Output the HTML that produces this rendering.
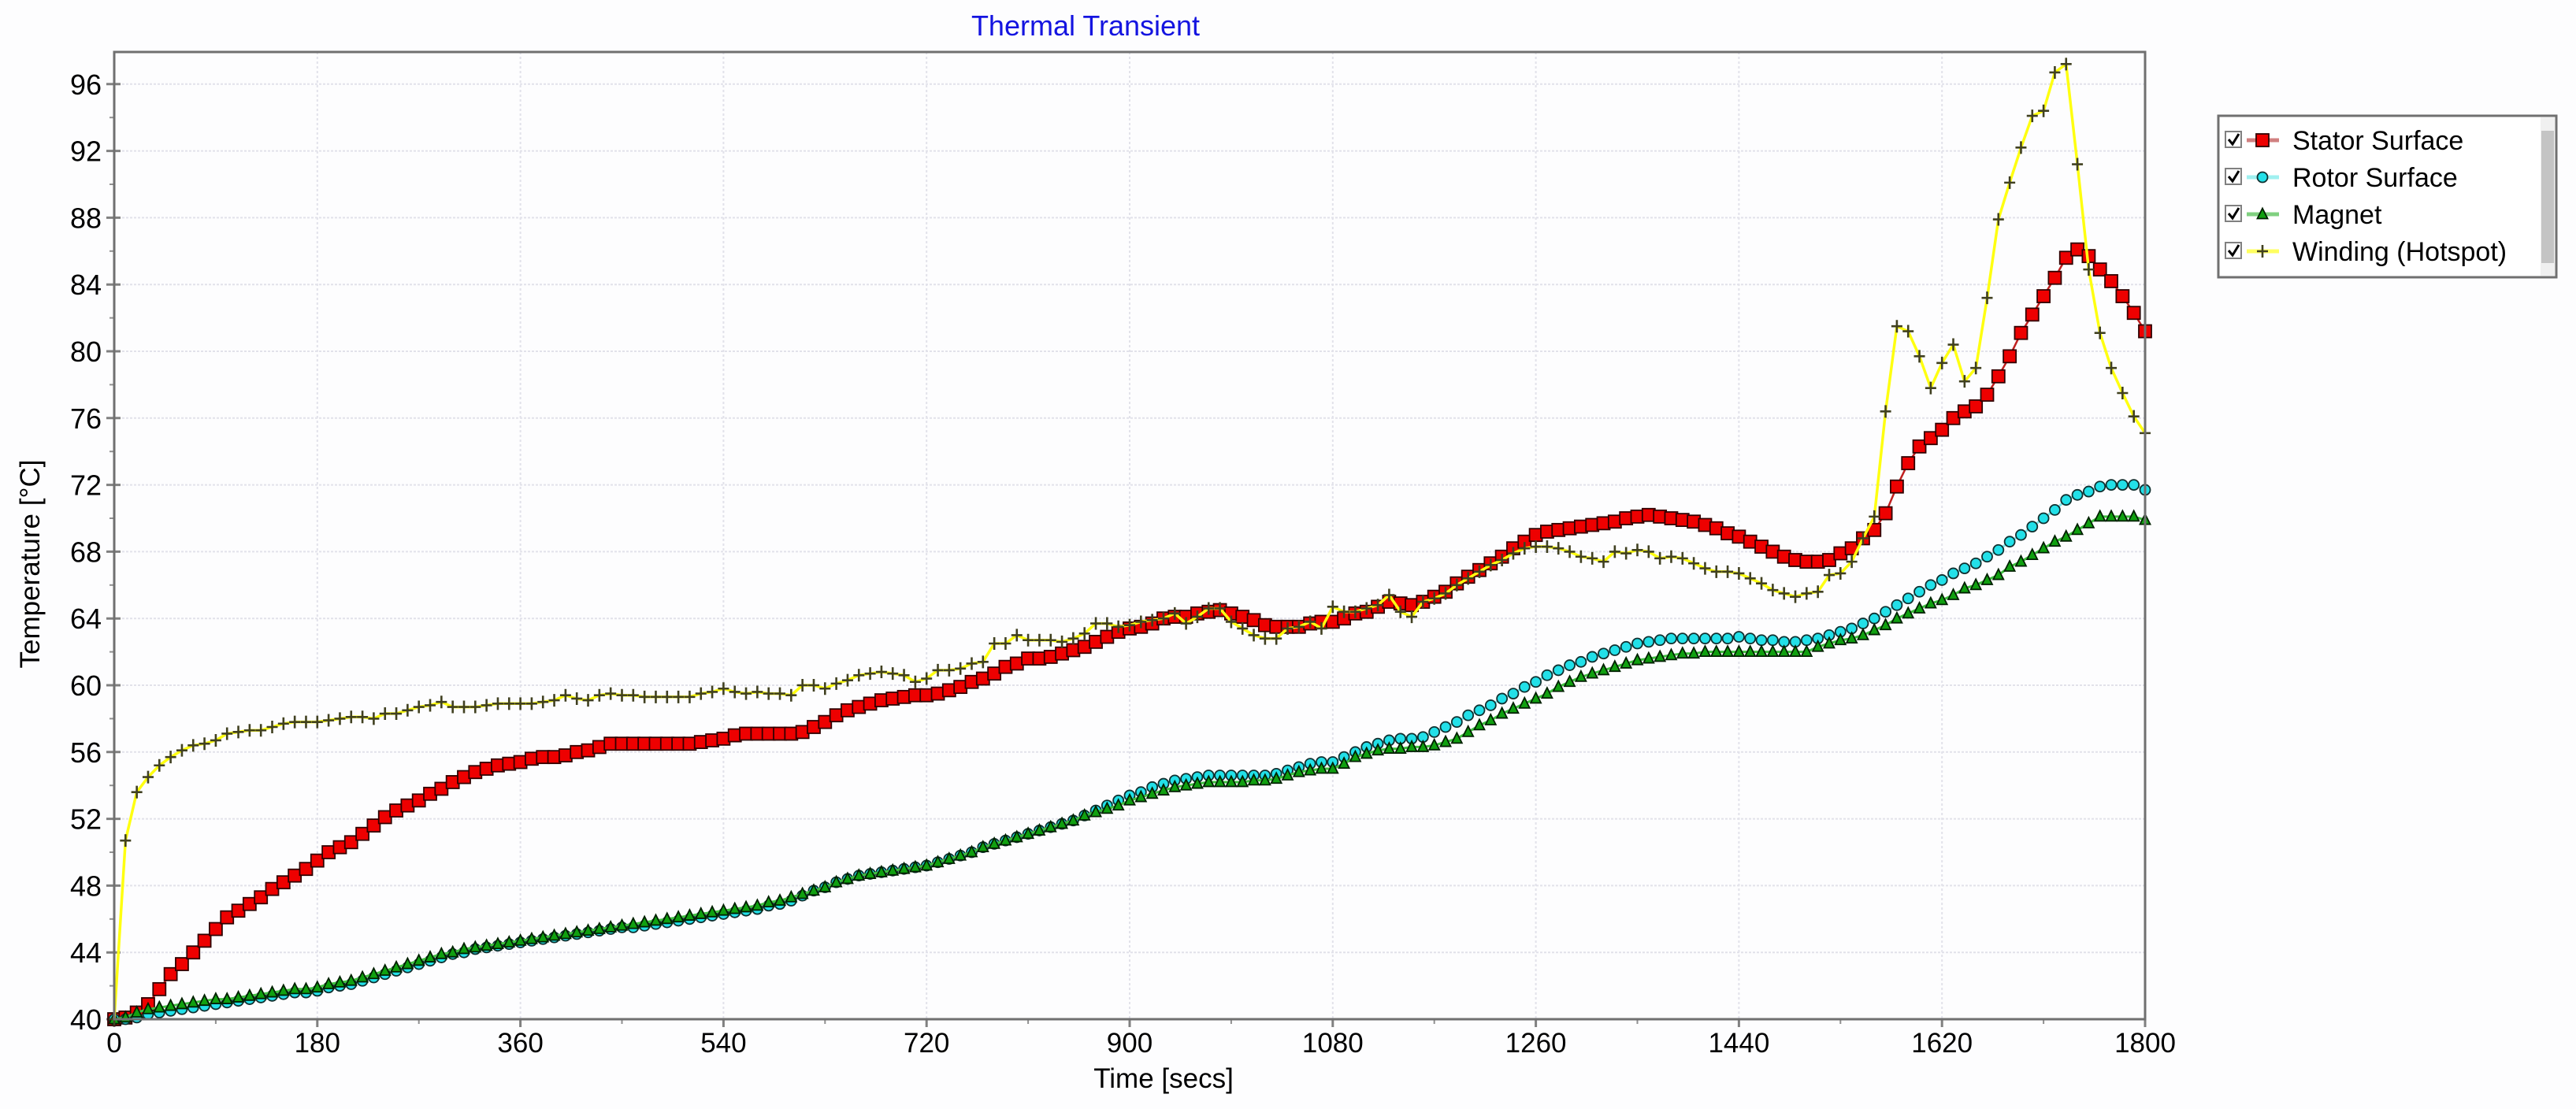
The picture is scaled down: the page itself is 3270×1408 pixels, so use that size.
<!DOCTYPE html>
<html><head><meta charset="utf-8"><style>
html,body{margin:0;padding:0;background:#fdfdfe;}
svg{display:block;font-family:"Liberation Sans",Arial,sans-serif;}
</style></head><body>
<svg id="chart" width="3270" height="1408" viewBox="0 0 3270 1408" xmlns="http://www.w3.org/2000/svg">
<rect x="0" y="0" width="3270" height="1408" fill="#fdfdfe"/>
<text x="1378" y="45" font-size="36" fill="#1414e0" text-anchor="middle">Thermal Transient</text>
<g id="grid"></g>
<g id="axes"></g>
<g id="series"></g>
<rect x="145" y="66" width="2578" height="1228" fill="none" stroke="#707070" stroke-width="3"/>
<text x="1477" y="1381" font-size="35" text-anchor="middle" fill="#000">Time [secs]</text>
<text x="0" y="0" font-size="35" text-anchor="middle" fill="#000" transform="translate(50,716) rotate(-90)">Temperature [°C]</text>
<g id="legend">
  <rect x="2816" y="147" width="429" height="205" fill="#fff" stroke="#707070" stroke-width="3"/>
  <rect x="3225" y="149" width="18" height="201" fill="#f0f0f0"/>
  <rect x="3226" y="166" width="16" height="168" fill="#c4c4c4"/>
</g>
</svg>
<script>
const times = [];
for (let t = 0; t <= 1800; t += 10) times.push(t);
const xTicks = [0,180,360,540,720,900,1080,1260,1440,1620,1800];
const yTicks = [40,44,48,52,56,60,64,68,72,76,80,84,88,92,96];
const seriesNames = ["Stator Surface","Rotor Surface","Magnet","Winding (Hotspot)"];
const stator = [
40.0,40.1,40.4,40.9,41.8,42.7,43.3,44.0,44.7,45.4,
46.1,46.5,46.9,47.3,47.8,48.2,48.6,49.0,49.5,50.0,
50.3,50.6,51.1,51.6,52.1,52.5,52.8,53.1,53.5,53.8,
54.2,54.5,54.8,55.0,55.2,55.3,55.4,55.6,55.7,55.7,
55.8,56.0,56.1,56.3,56.5,56.5,56.5,56.5,56.5,56.5,
56.5,56.5,56.6,56.7,56.8,57.0,57.1,57.1,57.1,57.1,
57.1,57.2,57.5,57.8,58.2,58.5,58.7,58.9,59.1,59.2,
59.3,59.4,59.4,59.5,59.7,59.9,60.2,60.4,60.7,61.1,
61.3,61.6,61.6,61.7,61.9,62.1,62.3,62.6,62.9,63.2,
63.4,63.5,63.7,64.0,64.1,64.1,64.3,64.4,64.5,64.3,
64.1,63.9,63.6,63.5,63.5,63.5,63.7,63.8,63.8,64.0,
64.3,64.4,64.7,65.0,64.9,64.8,65.0,65.3,65.6,66.1,
66.5,66.9,67.3,67.7,68.2,68.6,69.0,69.2,69.3,69.4,
69.5,69.6,69.7,69.8,70.0,70.1,70.2,70.1,70.0,69.9,
69.8,69.6,69.4,69.1,68.9,68.6,68.3,68.0,67.7,67.5,
67.4,67.4,67.5,67.9,68.2,68.8,69.3,70.3,71.9,73.3,
74.3,74.8,75.3,76.0,76.4,76.7,77.4,78.5,79.7,81.1,
82.2,83.3,84.4,85.6,86.1,85.7,84.9,84.2,83.3,82.3,
81.2];
const rotor = [
40.0,40.0,40.1,40.3,40.4,40.5,40.6,40.7,40.8,40.9,
41.0,41.1,41.2,41.3,41.4,41.5,41.6,41.6,41.7,41.9,
42.0,42.1,42.3,42.5,42.7,42.9,43.1,43.3,43.5,43.7,
43.9,44.0,44.2,44.3,44.4,44.5,44.6,44.7,44.8,44.9,
45.0,45.1,45.2,45.3,45.4,45.5,45.5,45.6,45.7,45.8,
45.9,46.0,46.1,46.2,46.3,46.4,46.5,46.6,46.8,46.9,
47.1,47.4,47.7,47.9,48.2,48.4,48.6,48.7,48.8,48.9,
49.0,49.1,49.2,49.4,49.6,49.8,50.0,50.3,50.5,50.7,
50.9,51.1,51.3,51.5,51.7,51.9,52.2,52.5,52.8,53.1,
53.4,53.6,53.9,54.1,54.3,54.4,54.5,54.6,54.6,54.6,
54.6,54.6,54.6,54.7,54.9,55.1,55.3,55.4,55.4,55.7,
56.0,56.3,56.5,56.7,56.8,56.8,56.9,57.2,57.5,57.8,
58.2,58.5,58.8,59.2,59.5,59.9,60.2,60.6,60.9,61.2,
61.4,61.7,61.9,62.1,62.3,62.5,62.6,62.7,62.8,62.8,
62.8,62.8,62.8,62.8,62.9,62.8,62.7,62.7,62.6,62.6,
62.7,62.8,63.0,63.2,63.4,63.7,64.0,64.4,64.8,65.2,
65.6,66.0,66.3,66.7,67.0,67.3,67.7,68.1,68.6,69.0,
69.5,70.0,70.5,71.1,71.4,71.6,71.9,72.0,72.0,72.0,
71.7];
const magnet = [
40.0,40.1,40.4,40.6,40.7,40.8,40.9,41.0,41.1,41.2,
41.2,41.3,41.4,41.5,41.6,41.7,41.8,41.8,41.9,42.1,
42.2,42.3,42.5,42.7,42.9,43.1,43.3,43.5,43.7,43.9,
44.0,44.2,44.3,44.4,44.5,44.6,44.7,44.8,44.9,45.0,
45.1,45.2,45.3,45.4,45.5,45.6,45.7,45.8,45.9,46.0,
46.1,46.2,46.3,46.4,46.5,46.6,46.7,46.8,47.0,47.1,
47.3,47.5,47.7,47.9,48.2,48.4,48.6,48.7,48.8,48.9,
49.0,49.1,49.2,49.4,49.6,49.8,50.0,50.3,50.5,50.7,
50.9,51.1,51.3,51.5,51.7,51.9,52.2,52.4,52.6,52.8,
53.1,53.3,53.5,53.7,53.9,54.0,54.1,54.2,54.2,54.2,
54.2,54.3,54.3,54.4,54.6,54.8,54.9,55.0,55.0,55.3,
55.7,55.9,56.1,56.2,56.2,56.3,56.3,56.4,56.6,56.8,
57.2,57.6,57.9,58.3,58.6,58.9,59.2,59.5,59.9,60.2,
60.5,60.7,60.9,61.1,61.3,61.5,61.6,61.7,61.8,61.9,
61.9,62.0,62.0,62.0,62.0,62.0,62.0,62.0,62.0,62.0,
62.0,62.3,62.5,62.7,62.8,63.0,63.3,63.6,64.0,64.3,
64.6,64.9,65.1,65.4,65.8,66.0,66.3,66.6,67.1,67.4,
67.8,68.2,68.6,68.9,69.3,69.7,70.1,70.1,70.1,70.1,
69.9];
const winding = [
40.0,50.7,53.6,54.5,55.2,55.7,56.1,56.4,56.5,56.7,
57.1,57.2,57.3,57.3,57.5,57.7,57.8,57.8,57.8,57.9,
58.0,58.1,58.1,58.0,58.3,58.3,58.5,58.7,58.8,59.0,
58.7,58.7,58.7,58.8,58.9,58.9,58.9,58.9,59.0,59.1,
59.4,59.2,59.1,59.4,59.5,59.4,59.4,59.3,59.3,59.3,
59.3,59.3,59.5,59.6,59.8,59.6,59.5,59.6,59.5,59.5,
59.4,60.0,60.0,59.8,60.1,60.3,60.6,60.7,60.8,60.7,
60.6,60.2,60.4,60.9,60.9,61.0,61.3,61.4,62.5,62.5,
63.0,62.7,62.7,62.7,62.6,62.8,63.1,63.7,63.7,63.5,
63.6,63.8,63.9,64.0,64.3,63.7,64.1,64.6,64.6,63.8,
63.4,63.0,62.8,62.8,63.4,63.5,63.8,63.4,64.7,64.4,
64.4,64.6,64.8,65.4,64.4,64.1,65.0,65.2,65.5,66.0,
66.4,66.8,67.2,67.5,67.9,68.2,68.3,68.3,68.2,68.0,
67.7,67.6,67.4,68.0,67.9,68.1,68.0,67.6,67.7,67.6,
67.3,67.0,66.8,66.8,66.7,66.4,66.1,65.7,65.5,65.3,
65.5,65.6,66.6,66.7,67.4,68.8,70.1,76.4,81.5,81.2,
79.7,77.8,79.3,80.4,78.2,79.0,83.2,87.9,90.1,92.2,
94.1,94.4,96.7,97.2,91.2,84.9,81.1,79.0,77.5,76.1,
75.1];

const NS = "http://www.w3.org/2000/svg";
const X0 = 145, X1 = 2723, Y0 = 1294, PXC = 21.2;
function xs(t){ return X0 + (t/1800)*(X1-X0); }
function ys(v){ return Y0 - (v-40)*PXC; }
function mk(tag, attrs, parent){
  const e = document.createElementNS(NS, tag);
  for (const k in attrs) e.setAttribute(k, attrs[k]);
  parent.appendChild(e);
  return e;
}
const grid = document.getElementById('grid');
const axes = document.getElementById('axes');
const series = document.getElementById('series');

xTicks.forEach(t => {
  const x = xs(t);
  if (t>0 && t<1800) {
    const gl = mk('line',{x1:x,y1:66,x2:x,y2:Y0,stroke:'#e2e2ea','stroke-width':2,'stroke-dasharray':'3,3'},grid);
    
    
  }
  const tk = mk('line',{x1:x,y1:Y0,x2:x,y2:Y0+10,stroke:'#808080','stroke-width':3},axes);
  
  
  const lb = mk('text',{x:x,y:Y0+42,'font-size':35,'text-anchor':'middle',fill:'#000'},axes);
  lb.textContent = t;
  
  
  if (t<1800) {
    const mt = mk('line',{x1:xs(t+90),y1:Y0,x2:xs(t+90),y2:Y0+6,stroke:'#909090','stroke-width':2},axes);
    
    
  }
});
yTicks.forEach(v => {
  const y = ys(v);
  if (v>40) {
    const gl = mk('line',{x1:X0,y1:y,x2:X1,y2:y,stroke:'#e2e2ea','stroke-width':2,'stroke-dasharray':'3,2'},grid);
    
    
  }
  const tk = mk('line',{x1:X0-10,y1:y,x2:X0+8,y2:y,stroke:'#808080','stroke-width':3},axes);
  
  
  const lb = mk('text',{x:129,y:y+13,'font-size':36,'text-anchor':'end',fill:'#000'},axes);
  lb.textContent = v;
  
  
  if (v<96) {
    const mt = mk('line',{x1:X0-6,y1:ys(v+2),x2:X0,y2:ys(v+2),stroke:'#909090','stroke-width':2},axes);
    
    
  }
});

function marker(kind, cx, cy, parent){
  let e;
  if (kind==='square') e = mk('rect',{x:cx-8,y:cy-8,width:16,height:16,fill:'#ee0000',stroke:'#300000','stroke-width':1.8},parent);
  else if (kind==='circle') e = mk('circle',{cx:cx,cy:cy,r:6.5,fill:'#22e0e8',stroke:'#103030','stroke-width':1.8},parent);
  else if (kind==='tri') e = mk('polygon',{points:`${cx},${cy-7.5} ${cx+6.5},${cy+5.5} ${cx-6.5},${cy+5.5}`,fill:'#10a010',stroke:'#002000','stroke-width':1.8},parent);
  else e = mk('path',{d:`M${cx-7},${cy}H${cx+7}M${cx},${cy-8}V${cy+8}`,stroke:'#404020','stroke-width':2.6,fill:'none'},parent);
  return e;
}
function drawSeries(vals, lineColor, lineW, kind, name){
  const g = mk('g',{},series);
  
  
  const pts = vals.map((v,i)=> xs(times[i]).toFixed(1)+','+ys(v).toFixed(1)).join(' ');
  const pl = mk('polyline',{points:pts,fill:'none',stroke:lineColor,'stroke-width':lineW,'stroke-linejoin':'round'},g);
  
  
  vals.forEach((v,i)=>{
    const m = marker(kind, xs(times[i]), ys(v), g);
    
    
  });
}
drawSeries(stator, '#c02020', 2.5, 'square', 'stator-surface-series');
drawSeries(rotor, '#80e8ec', 3, 'circle', 'rotor-surface-series');
drawSeries(magnet, '#40c040', 3, 'tri', 'magnet-series');
drawSeries(winding, '#ffff10', 3.5, 'plus', 'winding-hotspot-series');

const legend = document.getElementById('legend');
const legKinds = ['square','circle','tri','plus'];
const legLine = ['#d08080','#a0f0f0','#80d080','#ffff60'];
seriesNames.forEach((n,i)=>{
  const y = 178 + i*47;
  const g = mk('g',{},legend);
  
  
  const cb = mk('rect',{x:2825,y:y-11,width:20,height:20,fill:'#fff',stroke:'#808080','stroke-width':2},g);
  
  
  const ck = mk('path',{d:`M${2829},${y-1} L${2834},${y+5} L${2842},${y-8}`,stroke:'#000','stroke-width':3,fill:'none'},g);
  
  
  const ln = mk('line',{x1:2852,y1:y,x2:2893,y2:y,stroke:legLine[i],'stroke-width':5},g);
  
  
  const m = marker(legKinds[i], 2872, y, g);
  
  
  const tx = mk('text',{x:2910,y:y+12,'font-size':34,fill:'#000'},g);
  tx.textContent = n;
  
  
});
</script>
</body></html>
